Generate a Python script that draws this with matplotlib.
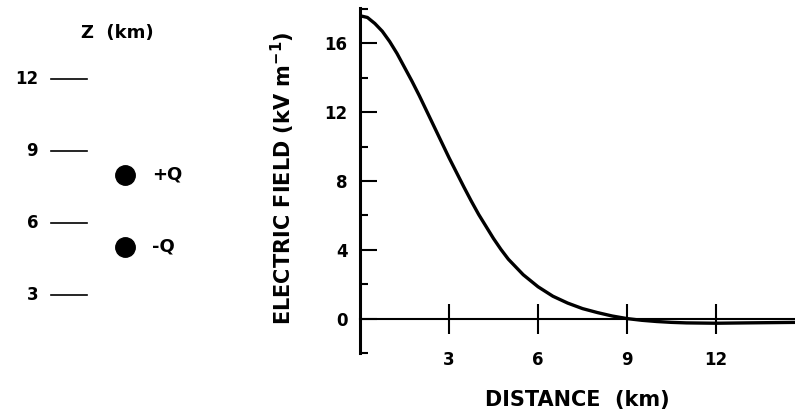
import matplotlib
matplotlib.use('Agg')
import matplotlib.pyplot as plt
from matplotlib.ticker import FixedLocator

plt.rcParams['font.family'] = ['DejaVu Sans']
plt.rcParams['font.weight'] = 'bold'
plt.rcParams['axes.labelweight'] = 'bold'
plt.rcParams['mathtext.default'] = 'bf'

# Left schematic: heights of the scale marks and of the two charges (km)
z_marks = [3, 6, 9, 12]
charge_z = [8, 5]
charge_labels = ['+Q', '-Q']

# Right panel: electric field at the ground vs distance
distance = [0, 0.25, 0.5, 0.75, 1.0, 1.25, 1.5, 1.75, 2.0, 2.25, 2.5, 2.75,
            3.0, 3.25, 3.5, 3.75, 4.0, 4.25, 4.5, 4.75, 5.0, 5.5, 6.0, 6.5,
            7.0, 7.5, 8.0, 8.5, 9.0, 9.5, 10.0, 10.5, 11.0, 12.0, 13.0, 14.7]
field = [17.6, 17.5, 17.15, 16.7, 16.1, 15.4, 14.6, 13.8, 12.95, 12.05,
         11.15, 10.25, 9.35, 8.5, 7.65, 6.83, 6.05, 5.35, 4.65, 4.02, 3.45,
         2.55, 1.85, 1.3, 0.9, 0.58, 0.35, 0.15, 0.0, -0.1, -0.17, -0.22,
         -0.25, -0.27, -0.25, -0.22]
x_ticks = [3, 6, 9, 12]
y_major = [0, 4, 8, 12, 16]
y_minor = [-2, 2, 6, 10, 14, 18]

fig = plt.figure(figsize=(7.95, 4.12), dpi=100)

# ---- left schematic (x in pixel-like units, y in km)
axl = fig.add_axes((0, 0, 260 / 795, 1))
axl.set_xlim(0, 260)
axl.set_ylim(-1.875, 15.29)
axl.axis('off')
for z in z_marks:
    axl.plot([51, 87], [z, z], color='black', lw=1.2)
    axl.text(38, z, str(z), ha='right', va='center', fontsize=12)
axl.plot([125] * len(charge_z), charge_z, 'o', color='black', markersize=14)
for z, lab in zip(charge_z, charge_labels):
    axl.text(152, z, lab, ha='left', va='center', fontsize=13)
axl.text(117, 13.92, 'Z  (km)', ha='center', va='center', fontsize=13)

# ---- right panel
ax = fig.add_axes((360 / 795, 1 - 353 / 412, 435 / 795, 345 / 412))
ax.plot(distance, field, color='black', lw=2.4, solid_capstyle='butt')
ax.set_xlim(0, 14.66)
ax.set_ylim(-2, 18.05)

for s in ['top', 'right']:
    ax.spines[s].set_visible(False)
ax.spines['left'].set_linewidth(2.2)
ax.spines['bottom'].set_position(('data', 0))
ax.spines['bottom'].set_linewidth(1.5)

ax.set_xticks(x_ticks)
ax.set_yticks(y_major)
ax.yaxis.set_minor_locator(FixedLocator(y_minor))
ax.tick_params(axis='x', direction='inout', length=21, width=1.5,
               pad=13, labelsize=12)
ax.tick_params(axis='y', which='major', direction='in', length=12,
               width=1.5, pad=9, labelsize=12)
ax.tick_params(axis='y', which='minor', direction='in', length=6, width=1.5)

ax.set_ylabel(r'ELECTRIC FIELD (kV m$^{-1}$)', fontsize=15, va='center')
ax.yaxis.set_label_coords(-0.177, 0.507)
ax.set_xlabel('DISTANCE  (km)', fontsize=15, va='center')
ax.xaxis.set_label_coords(0.499, -0.136)

fig.savefig('out.png', dpi=100)
